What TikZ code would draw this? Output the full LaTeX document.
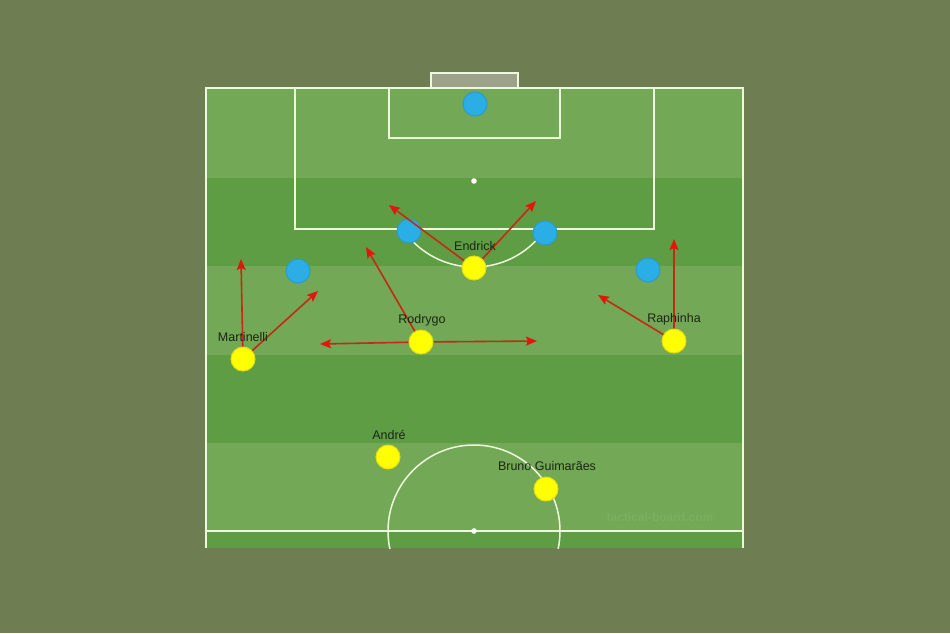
\documentclass[tikz,border=0pt]{standalone}
\usepackage{fontspec}
\setmainfont{Liberation Sans}
\usetikzlibrary{arrows.meta}
\definecolor{bgolive}{HTML}{6E7E52}
\definecolor{lightstripe}{HTML}{72A856}
\definecolor{darkstripe}{HTML}{5E9D43}
\definecolor{pitchline}{HTML}{EEF8DC}
\definecolor{goalfill}{HTML}{9DA38A}
\definecolor{ballyellow}{HTML}{FFFF00}
\definecolor{yellowedge}{HTML}{E6DC10}
\definecolor{ballblue}{HTML}{2BAEE6}
\definecolor{blueedge}{HTML}{2A9BCC}
\definecolor{arrowline}{HTML}{C42A14}
\definecolor{arrowred}{HTML}{E5140C}
\definecolor{labeltext}{HTML}{1C2614}
\definecolor{watermark}{HTML}{7CB061}
\tikzset{
  pline/.style={draw=pitchline, line width=1.5pt},
  yplayer/.style={circle, fill=ballyellow, draw=yellowedge, line width=1pt, minimum size=24pt, inner sep=0pt},
  bplayer/.style={circle, fill=ballblue, draw=blueedge, line width=1pt, minimum size=24pt, inner sep=0pt},
  plabel/.style={text=labeltext, font=\fontsize{12.5}{12.5}\selectfont, inner sep=0pt},
  runarrow/.style={draw=arrowline, line width=1.6pt, -{Stealth[length=11pt,width=9pt,inset=2pt,color=arrowred,fill=arrowred]}},
}
\begin{document}
\begin{tikzpicture}[x=1pt,y=-1pt]
\fill[bgolive] (0,0) rectangle (950,633);
\useasboundingbox (0,0) rectangle (950,633);
% stripes
\fill[lightstripe] (206,88) rectangle (743,178);
\fill[darkstripe] (206,178) rectangle (743,266);
\fill[lightstripe] (206,266) rectangle (743,355);
\fill[darkstripe] (206,355) rectangle (743,443);
\fill[lightstripe] (206,443) rectangle (743,531);
\fill[darkstripe] (206,531) rectangle (743,548);
% goal
\filldraw[fill=goalfill, draw=pitchline, line width=1.5pt] (431,88) -- (431,73) -- (518,73) -- (518,88);
% outline
\draw[pline] (206,548) -- (206,88) -- (743,88) -- (743,548);
\draw[pline] (206,531) -- (743,531);
% penalty box
\draw[pline] (295,88) -- (295,229) -- (654,229) -- (654,88);
% goal area
\draw[pline] (389,88) -- (389,138) -- (560,138) -- (560,88);
% penalty spot and arc
\fill[white] (474,181) circle (2.8pt);
\begin{scope}
\clip (206,229) rectangle (743,300);
\draw[pline] (474,181) circle (86);
\end{scope}
% centre circle
\begin{scope}
\clip (206,430) rectangle (743,548);
\draw[pline] (474,531) circle (86);
\end{scope}
\fill[white] (474,531) circle (2.8pt);
% watermark
\node[text=watermark, font=\bfseries\fontsize{12}{12}\selectfont, inner sep=0pt] (wm) at (660,517) {tactical-board.com};
% opponents
\node[bplayer] (gk) at (475,104) {};
\node[bplayer] (b1) at (409,231) {};
\node[bplayer] (b2) at (545,233) {};
\node[bplayer] (b3) at (298,271) {};
\node[bplayer] (b4) at (648,270) {};
% arrow targets
\coordinate (e1) at (389,205);
\coordinate (e2) at (536,201);
\coordinate (r1) at (366,247);
\coordinate (r2) at (320,344);
\coordinate (r3) at (537,341);
\coordinate (m1) at (241,259);
\coordinate (m2) at (318,291);
\coordinate (p1) at (674,239);
\coordinate (p2) at (598,295);
% player positions
\coordinate (endc) at (474,268);
\coordinate (rodc) at (421,342);
\coordinate (marc) at (243,359);
\coordinate (rapc) at (674,341);
% arrows
\draw[runarrow] (endc) -- (e1);
\draw[runarrow] (endc) -- (e2);
\draw[runarrow] (rodc) -- (r1);
\draw[runarrow] (rodc) -- (r2);
\draw[runarrow] (rodc) -- (r3);
\draw[runarrow] (marc) -- (m1);
\draw[runarrow] (marc) -- (m2);
\draw[runarrow] (rapc) -- (p1);
\draw[runarrow] (rapc) -- (p2);
% players
\node[yplayer] (endrick) at (endc) {};
\node[yplayer] (rodrygo) at (rodc) {};
\node[yplayer] (martinelli) at (marc) {};
\node[yplayer] (raphinha) at (rapc) {};
\node[yplayer] (andre) at (388,457) {};
\node[yplayer] (bruno) at (546,489) {};
% labels
\node[plabel] (lend) at (475,246) {Endrick};
\node[plabel] (lrod) at (422,320) {Rodrygo};
\node[plabel] (lmar) at (243,337) {Martinelli};
\node[plabel] (lrap) at (674,319) {Raphinha};
\node[plabel] (land) at (389,435) {André};
\node[plabel] (lbru) at (547,466) {Bruno Guimarães};
\end{tikzpicture}
\end{document}
